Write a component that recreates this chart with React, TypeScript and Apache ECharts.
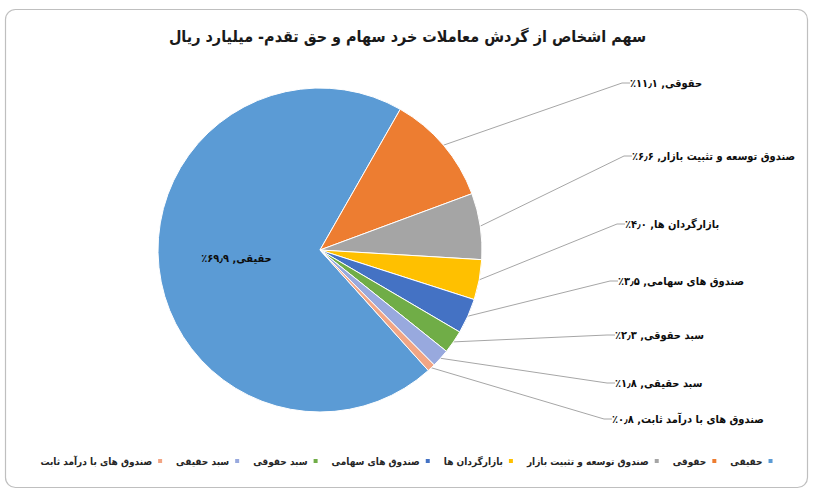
import React, { useEffect, useRef } from "react";
import * as echarts from "echarts";

const titleText = "سهم اشخاص از گردش معاملات خرد سهام و حق تقدم- میلیارد ریال";
const categories = [
  "حقیقی",
  "حقوقی",
  "صندوق توسعه و تثبیت بازار",
  "بازارگردان ها",
  "صندوق های سهامی",
  "سبد حقوقی",
  "سبد حقیقی",
  "صندوق های با درآمد ثابت",
];
const shares = [69.9, 11.1, 6.6, 4.0, 3.5, 2.3, 1.8, 0.8];

const colors = ["#5B9BD5", "#ED7D31", "#A5A5A5", "#FFC000", "#4472C4", "#70AD47", "#98A9DE", "#F2A584"];

// layout (manually placed labels of the original): label left x, label center y
const labelSpots: Array<[number, number] | null> = [
  null,
  [630, 78],
  [632, 151],
  [625, 219],
  [618, 276],
  [615, 330],
  [615, 378],
  [612, 414],
];
const secondSliceStartDeg = 29.7; // clockwise from 12 o'clock

const FONT = "DejaVu Sans Condensed";
const RLM = "\u200F";
const faDigits = "۰۱۲۳۴۵۶۷۸۹";
const toFa = (s: string) => s.replace(/[0-9]/g, (d) => faDigits[+d]).replace(".", "٫");

export default function App() {
  const ref = useRef<HTMLDivElement>(null);
  useEffect(() => {
    if (!ref.current) return;
    const chart = echarts.init(ref.current, undefined, { renderer: "svg" });
    const firstStart = secondSliceStartDeg - shares[0] * 3.6 + 360;
    const labelPad = 7;
    chart.setOption({
      animation: false,
      backgroundColor: "#ffffff",
      title: {
        text: titleText,
        left: "center",
        top: 23,
        textStyle: { fontFamily: FONT, fontSize: 16, fontWeight: "bold", color: "#1a1a1a" },
      },
      graphic: [
        {
          type: "rect",
          silent: true,
          shape: { x: 5.5, y: 9.5, width: 802, height: 478, r: 10 },
          style: { fill: "none", stroke: "#BFBFBF", lineWidth: 1.2 },
        },
      ],
      legend: {
        data: [...categories].reverse(),
        top: 451,
        left: "center",
        align: "right",
        icon: "rect",
        itemWidth: 6,
        itemHeight: 6,
        itemGap: 12,
        selectedMode: false,
        textStyle: { fontFamily: FONT, fontSize: 10, fontWeight: "bold", color: "#262626" },
      },
      series: [
        {
          type: "pie",
          center: [320, 250],
          radius: 162,
          startAngle: 90 - firstStart,
          clockwise: true,
          avoidLabelOverlap: false,
          itemStyle: { borderColor: "#ffffff", borderWidth: 1 },
          emphasis: { disabled: true },
          label: {
            show: true,
            position: "outside",
            fontFamily: FONT,
            fontSize: 11,
            fontWeight: "bold",
            color: "#0d0d0d",
            padding: [0, 0, 10, labelPad],
            formatter: (p: any) =>
              RLM + p.name + ", " + toFa(shares[p.dataIndex].toFixed(1)) + "٪" + RLM,
          },
          labelLine: {
            show: true,
            length: 20,
            length2: 8,
            minTurnAngle: 30,
            lineStyle: { color: "#A6A6A6", width: 1 },
          },
          labelLayout: (params: any) => {
            const s = labelSpots[params.dataIndex];
            if (!s) return {};
            return { x: s[0] - labelPad, y: s[1] + 5, align: "left", verticalAlign: "middle" };
          },
          data: categories.map((name, i) => ({
            name,
            value: shares[i],
            itemStyle: { color: colors[i] },
            ...(i === 0
              ? { label: { position: "inside", padding: 0 }, labelLine: { show: false } }
              : {}),
          })),
        },
      ],
    });
    return () => chart.dispose();
  }, []);
  return (
    <div
      ref={ref}
      style={{ position: "absolute", left: 0, top: 0, width: 815, height: 497 }}
    />
  );
}
